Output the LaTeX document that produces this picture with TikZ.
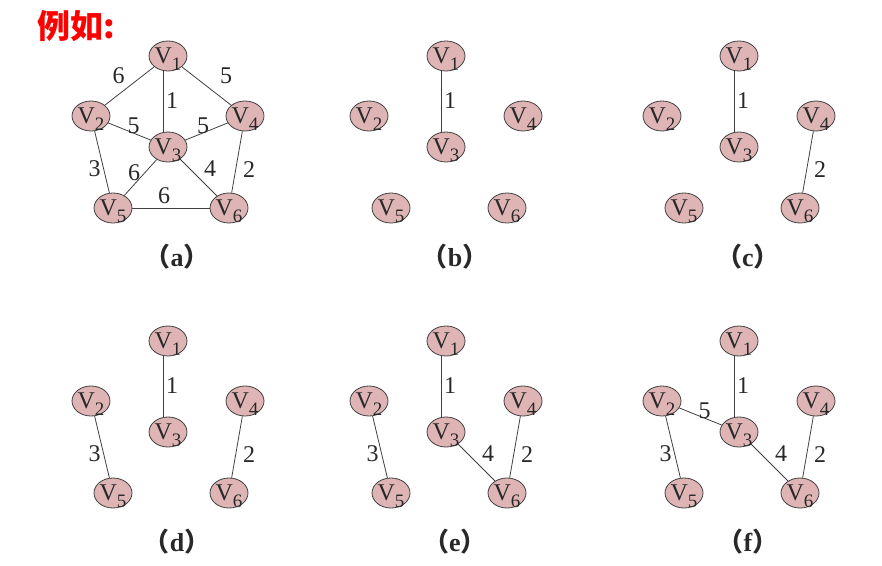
\documentclass[tikz,border=0pt]{standalone}
\usepackage{fontspec}
\setmainfont{Liberation Serif}
\newfontfamily\cjk{Noto Sans CJK SC}
\usetikzlibrary{shapes.geometric}

\definecolor{vfill}{RGB}{222,180,180}
\definecolor{vline}{RGB}{64,64,64}
\definecolor{ink}{RGB}{40,40,40}

\tikzset{
  vtx/.style={ellipse, draw=vline, fill=vfill, line width=0.8pt,
    minimum width=38pt, minimum height=30pt, inner sep=0pt,
    font=\fontsize{24}{24}\selectfont, text=ink},
  edge/.style={draw=vline, line width=0.8pt},
  wt/.style={font=\fontsize{24}{24}\selectfont, text=ink, inner sep=0pt},
  panelcap/.style={font=\fontsize{26}{26}\selectfont\bfseries, text=ink, inner sep=0pt},
}

% vertex label with a lowered index
\newcommand{\vname}[1]{V\raisebox{-7pt}[0pt][0pt]{\fontsize{19}{19}\selectfont #1}}
% weighted edge: panel, from, to, weight, label shift
\newcommand{\lnk}[6]{\draw[edge] (#1#2) -- (#1#3) node[wt,midway,xshift=#5pt,yshift=#6pt] {#4};}
% the vertical edge V1--V3
\newcommand{\trunk}[1]{\draw[edge] ([xshift=-5pt]#11.south) -- ([xshift=-5pt]#13.north) node[wt,midway,xshift=9pt,yshift=1pt] {1};}

\begin{document}
\begin{tikzpicture}[x=1pt,y=-1pt]
  \useasboundingbox (0,0) rectangle (882,565);

  % heading
  \node[font=\cjk\fontsize{33}{33}\selectfont\bfseries, text=red] (title) at (76,26) {例如:};

  % the six panels share the same vertex layout
  \foreach \p/\dx/\dy in {a/0/0, b/278/0, c/571/0, d/0/285, e/278/285, f/571/285} {
    \begin{scope}[shift={(\dx,\dy)}]
      \node[vtx] (\p1) at (168,56)  {\vname{1}};
      \node[vtx] (\p2) at (91,116)  {\vname{2}};
      \node[vtx] (\p3) at (168,147) {\vname{3}};
      \node[vtx] (\p4) at (245,116) {\vname{4}};
      \node[vtx] (\p5) at (113,208) {\vname{5}};
      \node[vtx] (\p6) at (229,208) {\vname{6}};
      \node[panelcap] (\p-cap) at (177,257) {{\cjk （}\p{\cjk ）}};
    \end{scope}
  }

  % (a) the whole graph
  \lnk{a}{1}{2}{6}{-11}{10.5}
  \lnk{a}{1}{4}{5}{19.5}{10.5}
  \trunk{a}
  \lnk{a}{2}{3}{5}{4}{6}
  \lnk{a}{3}{4}{5}{-3.5}{6}
  \lnk{a}{2}{5}{3}{-7.5}{-6.5}
  \lnk{a}{3}{5}{6}{-6.5}{4.5}
  \lnk{a}{3}{6}{4}{11.5}{8.5}
  \lnk{a}{4}{6}{2}{12}{-7.5}
  \lnk{a}{5}{6}{6}{-7}{12}

  % (b)
  \trunk{b}

  % (c)
  \trunk{c}
  \lnk{c}{4}{6}{2}{12}{-7.5}

  % (d)
  \trunk{d}
  \lnk{d}{2}{5}{3}{-7.5}{-6.5}
  \lnk{d}{4}{6}{2}{12}{-7.5}

  % (e)
  \trunk{e}
  \lnk{e}{2}{5}{3}{-7.5}{-6.5}
  \lnk{e}{4}{6}{2}{12}{-7.5}
  \lnk{e}{3}{6}{4}{11.5}{8.5}

  % (f)
  \trunk{f}
  \lnk{f}{2}{5}{3}{-7.5}{-6.5}
  \lnk{f}{4}{6}{2}{12}{-7.5}
  \lnk{f}{3}{6}{4}{11.5}{8.5}
  \lnk{f}{2}{3}{5}{4}{6}
\end{tikzpicture}
\end{document}
